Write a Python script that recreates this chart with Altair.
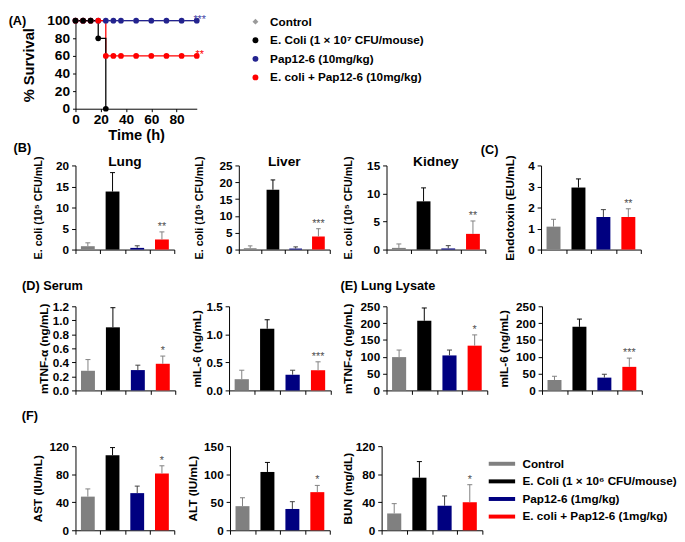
import altair as alt
import pandas as pd

FONT = "Liberation Sans"

# ---------------- Panel A : survival ----------------
labels_A = ["Control", "E. Coli (1 × 10⁷ CFU/mouse)", "Pap12-6 (10mg/kg)",
            "E. coli + Pap12-6 (10mg/kg)"]
colors_A = ["#9a9a9a", "#000000", "#23238f", "#ff0000"]
shapes_A = ["diamond", "circle", "circle", "circle"]

time_all = [0, 6, 12, 18, 24, 30, 36, 48, 60, 72, 84, 96]
surv_control = [100, 100, 100, 100, 100, 100, 100, 100, 100, 100, 100, 100]
surv_pap = [100, 100, 100, 100, 100, 100, 100, 100, 100, 100, 100, 100]
surv_combo = [100, 100, 100, 100, 60, 60, 60, 60, 60, 60, 60, 60]
time_ecoli = [0, 6, 12, 18, 24]
surv_ecoli = [100, 100, 100, 80, 0]

stars_A_time = [96, 96]
stars_A_surv = [100, 60]
stars_A_text = ["***", "**"]
stars_A_colors = ["#4848a8", "#ff0000"]

# ---------------- Bar panels ----------------
groups = ["Control", "E. Coli (1 × 10⁶ CFU/mouse)", "Pap12-6 (1mg/kg)",
          "E. coli + Pap12-6 (1mg/kg)"]
bar_colors = ["#808080", "#000000", "#000080", "#ff0000"]
err_colors = ["#808080", "#000000", "#404040", "#808080"]

lung_mean = [0.8, 13.8, 0.4, 2.4]
lung_err = [0.8, 4.5, 0.5, 1.8]
lung_star = ["", "", "", "**"]
liver_mean = [0.4, 17.8, 0.3, 3.9]
liver_err = [0.7, 2.9, 0.5, 2.3]
liver_star = ["", "", "", "***"]
kidney_mean = [0.3, 8.6, 0.2, 2.8]
kidney_err = [0.7, 2.4, 0.5, 2.3]
kidney_star = ["", "", "", "**"]
endo_mean = [1.09, 2.95, 1.55, 1.55]
endo_err = [0.35, 0.41, 0.35, 0.39]
endo_star = ["", "", "", "**"]

tnf_serum_mean = [0.28, 0.90, 0.29, 0.38]
tnf_serum_err = [0.16, 0.28, 0.07, 0.11]
tnf_serum_star = ["", "", "", "*"]
il6_serum_mean = [0.20, 1.10, 0.28, 0.36]
il6_serum_err = [0.16, 0.16, 0.08, 0.15]
il6_serum_star = ["", "", "", "***"]
tnf_lung_mean = [99, 207, 104, 133]
tnf_lung_err = [21, 38, 16, 32]
tnf_lung_star = ["", "", "", "*"]
il6_lung_mean = [31, 189, 38, 70]
il6_lung_err = [11, 23, 10, 26]
il6_lung_star = ["", "", "", "***"]

ast_mean = [48, 107, 53, 81]
ast_err = [11, 11, 10, 11]
ast_star = ["", "", "", "*"]
alt_mean = [43, 104, 38, 68]
alt_err = [15, 17, 13, 12]
alt_star = ["", "", "", "*"]
bun_mean = [24, 75, 35, 40]
bun_err = [14, 23, 14, 25]
bun_star = ["", "", "", "*"]

ticks_20 = [0, 5, 10, 15, 20]
ticks_25 = [0, 5, 10, 15, 20, 25]
ticks_15 = [0, 5, 10, 15]
ticks_4 = [0, 1, 2, 3, 4]
ticks_12 = [0.0, 0.2, 0.4, 0.6, 0.8, 1.0, 1.2]
ticks_15f = [0.0, 0.5, 1.0, 1.5]
ticks_250 = [0, 50, 100, 150, 200, 250]
ticks_120 = [0, 40, 80, 120]
ticks_150 = [0, 50, 100, 150]
positions = [0, 1, 2, 3]
x_ticks = [0, 1, 2, 3, 4]
ticks_A_x = [0, 20, 40, 60, 80]
ticks_A_y = [0, 20, 40, 60, 80, 100]

TITLE_LABEL = dict(fontSize=13, fontWeight="bold", font=FONT, color="black")


def bar_panel(means, errs, stars, yticks, fmt, ytitle, width, title_pad,
              title=None, legend=None, height=86, title_size=12):
    df = pd.DataFrame({"group": groups, "pos": positions, "mean": means,
                       "err": errs, "star": stars})
    xs = alt.Scale(domain=[0, 4], nice=False, zero=False)
    ys = alt.Scale(domain=[yticks[0], yticks[-1]], nice=False)
    xaxis = alt.Axis(values=x_ticks, labels=False, title=None, grid=False,
                     tickSize=4, labelOverlap=False)
    yaxis = alt.Axis(values=yticks, format=fmt, title=ytitle, grid=False,
                     tickSize=4, labelPadding=3, titlePadding=title_pad,
                     labelFontSize=12, titleFontSize=title_size, labelOverlap=False,
                     labelFlush=False)
    base = alt.Chart(df).transform_calculate(
        left="datum.pos + 0.22", right="datum.pos + 0.78",
        mid="datum.pos + 0.5", capl="datum.pos + 0.4",
        capr="datum.pos + 0.6", top="datum.mean + datum.err", zero="0")
    X = lambda f: alt.X(f, type="quantitative", scale=xs, axis=xaxis)
    Y = lambda f: alt.Y(f, type="quantitative", scale=ys, axis=yaxis)
    bars = base.mark_bar().encode(
        x=X("left"), x2="right:Q", y=Y("mean"), y2="zero:Q",
        color=alt.Color("group:N", scale=alt.Scale(domain=groups, range=bar_colors),
                        legend=legend))
    err_scale = alt.Scale(domain=groups, range=err_colors)
    ebar = base.mark_rule(strokeWidth=1).encode(
        x=X("mid"), y=Y("mean"), y2="top:Q",
        stroke=alt.Stroke("group:N", scale=err_scale, legend=None))
    cap = base.mark_rule(strokeWidth=1).encode(
        x=X("capl"), x2="capr:Q", y=Y("top"),
        stroke=alt.Stroke("group:N", scale=err_scale, legend=None))
    txt = base.mark_text(baseline="bottom", dy=0, fontSize=11, fill="#505050",
                         font=FONT).encode(x=X("mid"), y=Y("top"), text="star:N")
    props = dict(width=width, height=height)
    if title is not None:
        props["title"] = title
    return alt.layer(bars, ebar, cap, txt).properties(**props)


def spacer(w):
    d = pd.DataFrame({"v": [0]})
    return alt.Chart(d).mark_point(opacity=0).encode(
        x=alt.X("v:Q", axis=None), y=alt.Y("v:Q", axis=None)
    ).properties(width=w, height=1)


# ---------- Panel A chart ----------
series_list = [(labels_A[0], time_all, surv_control, colors_A[0]),
               (labels_A[2], time_all, surv_pap, colors_A[2]),
               (labels_A[3], time_all, surv_combo, colors_A[3]),
               (labels_A[1], time_ecoli, surv_ecoli, colors_A[1])]
frames = [pd.DataFrame({"series": lab, "time": t, "surv": s})
          for lab, t, s, _ in series_list]
dfA = pd.concat(frames, ignore_index=True)

axA_x = alt.Axis(values=ticks_A_x, title="Time (h)", grid=False,
                 labelFontSize=14, titleFontSize=15, tickSize=3,
                 labelPadding=1, titlePadding=1, labelOverlap=False, labelFlush=False)
axA_y = alt.Axis(values=ticks_A_y, title="% Survival", grid=False,
                 labelFontSize=14, titleFontSize=15, tickSize=3, labelPadding=3,
                 titlePadding=11, labelOverlap=False, labelFlush=False)
sxA = alt.Scale(domain=[0, 96], nice=False)
syA = alt.Scale(domain=[0, 100], nice=False)
XA = alt.X("time:Q", scale=sxA, axis=axA_x)
YA = alt.Y("surv:Q", scale=syA, axis=axA_y)
legA = alt.Legend(title=None, orient="none", legendX=178, legendY=-5,
                  labelFontSize=12, labelFontWeight="bold", labelFont=FONT,
                  labelColor="black", symbolSize=36, rowPadding=7, labelOffset=9,
                  padding=0, symbolStrokeWidth=0, labelLimit=400)

layersA = []
for lab, t, s, c in series_list:
    d = pd.DataFrame({"time": t, "surv": s})
    layersA.append(alt.Chart(d).mark_line(interpolate="step-after", strokeWidth=1.3,
                                          color=c).encode(x=XA, y=YA))
ptsA = alt.Chart(dfA).mark_point(filled=True, size=34, opacity=1).encode(
    x=XA, y=YA,
    color=alt.Color("series:N", scale=alt.Scale(domain=labels_A, range=colors_A),
                    legend=legA),
    shape=alt.Shape("series:N", scale=alt.Scale(domain=labels_A, range=shapes_A),
                    legend=legA))
layersA.append(ptsA)
for tt, ss, txt, c in zip(stars_A_time, stars_A_surv, stars_A_text, stars_A_colors):
    d = pd.DataFrame({"time": [tt], "surv": [ss], "txt": [txt]})
    layersA.append(alt.Chart(d).mark_text(baseline="bottom", dy=4, dx=3, fontSize=11,
                                          font=FONT, fill=c).encode(
        x=XA, y=YA, text="txt:N"))
chartA = alt.layer(*layersA).properties(
    width=124, height=90,
    title=alt.Title("(A)", anchor="start", frame="bounds", dx=-13, dy=18,
                    **TITLE_LABEL))

# ---------- Row B ----------
ecoli_t = "E. coli (10⁵ CFU/mL)"
organ_title = dict(fontSize=14, fontWeight="bold", font=FONT, color="black", dy=17)
lung = bar_panel(lung_mean, lung_err, lung_star, ticks_20, "d", ecoli_t, 101, 12,
                 title=alt.Title("Lung", **organ_title), title_size=11)
liver = bar_panel(liver_mean, liver_err, liver_star, ticks_25, "d", ecoli_t, 93, 15,
                  title=alt.Title("Liver", **organ_title), title_size=11)
kidney = bar_panel(kidney_mean, kidney_err, kidney_star, ticks_15, "d", ecoli_t, 101, 13,
                   title=alt.Title("Kidney", **organ_title), title_size=11)
endo = bar_panel(endo_mean, endo_err, endo_star, ticks_4, "d", "Endotoxin (EU/mL)", 102, 11,
                 title=alt.Title("(C)", anchor="start", frame="bounds", dx=-24, dy=6,
                                 **TITLE_LABEL))
rowB = alt.hconcat(lung, spacer(66), liver, spacer(58), kidney, spacer(57), endo,
                   spacing=0, bounds="flush",
                   title=alt.Title("(B)", anchor="start", frame="bounds", dx=-20, dy=15,
                                   **TITLE_LABEL)
                   ).resolve_scale(color="independent", stroke="independent")

# ---------- Row D/E ----------
tnf_serum = bar_panel(tnf_serum_mean, tnf_serum_err, tnf_serum_star, ticks_12, ".1f",
                      "mTNF-α (ng/mL)", 102, 2,
                      title=alt.Title("(D) Serum", anchor="start", frame="bounds", dx=-16,
                                      **TITLE_LABEL))
il6_serum = bar_panel(il6_serum_mean, il6_serum_err, il6_serum_star, ticks_15f, ".1f",
                      "mIL-6 (ng/mL)", 104, 2)
tnf_lung = bar_panel(tnf_lung_mean, tnf_lung_err, tnf_lung_star, ticks_250, "d",
                     "mTNF-α (ng/mL)", 103, 6,
                     title=alt.Title("(E) Lung Lysate", anchor="start", frame="bounds",
                                     dx=-1, **TITLE_LABEL))
il6_lung = bar_panel(il6_lung_mean, il6_lung_err, il6_lung_star, ticks_250, "d",
                     "mIL-6 (ng/mL)", 102, 5)
rowD = alt.hconcat(tnf_serum, spacer(55), il6_serum, spacer(57), tnf_lung, spacer(56),
                   il6_lung, spacing=0, bounds="flush"
                   ).resolve_scale(color="independent", stroke="independent")

# ---------- Row F ----------
legF = alt.Legend(title=None, orient="none", legendX=116, legendY=11,
                  labelFontSize=12, labelFontWeight="bold", labelFont=FONT,
                  labelColor="black", symbolType="M-2,-0.3L2,-0.3L2,0.3L-2,0.3Z",
                  symbolSize=182, rowPadding=5, labelOffset=14, padding=0,
                  symbolStrokeWidth=0, labelLimit=400)
ast = bar_panel(ast_mean, ast_err, ast_star, ticks_120, "d", "AST (IU/mL)", 101, 5,
                title=alt.Title("(F)", anchor="start", frame="bounds", dx=-10, offset=14,
                                **TITLE_LABEL))
altp = bar_panel(alt_mean, alt_err, alt_star, ticks_150, "d", "ALT (IU/mL)", 102, 4)
bun = bar_panel(bun_mean, bun_err, bun_star, ticks_120, "d", "BUN (mg/dL)", 103, 1,
                legend=legF)
rowF = alt.hconcat(ast, spacer(57), altp, spacer(53), bun, spacing=0, bounds="flush"
                   ).resolve_scale(color="independent", stroke="independent")

chart = alt.vconcat(
    alt.vconcat(chartA, rowB, spacing=0).resolve_scale(
        color="independent", stroke="independent", shape="independent"),
    alt.vconcat(rowD, rowF, spacing=14).resolve_scale(
        color="independent", stroke="independent"),
    spacing=20, padding=0,
).resolve_scale(color="independent", stroke="independent", shape="independent"
).configure(font=FONT
).configure_view(stroke=None
).configure_axis(labelFont=FONT, titleFont=FONT, labelFontWeight="bold",
                 titleFontWeight="bold", labelColor="black", titleColor="black",
                 domainColor="black", tickColor="black", domainWidth=1, tickWidth=1,
                 labelOverlap=False, labelFlush=False)

chart.save("out.html", embed_options={"renderer": "svg", "actions": False})
